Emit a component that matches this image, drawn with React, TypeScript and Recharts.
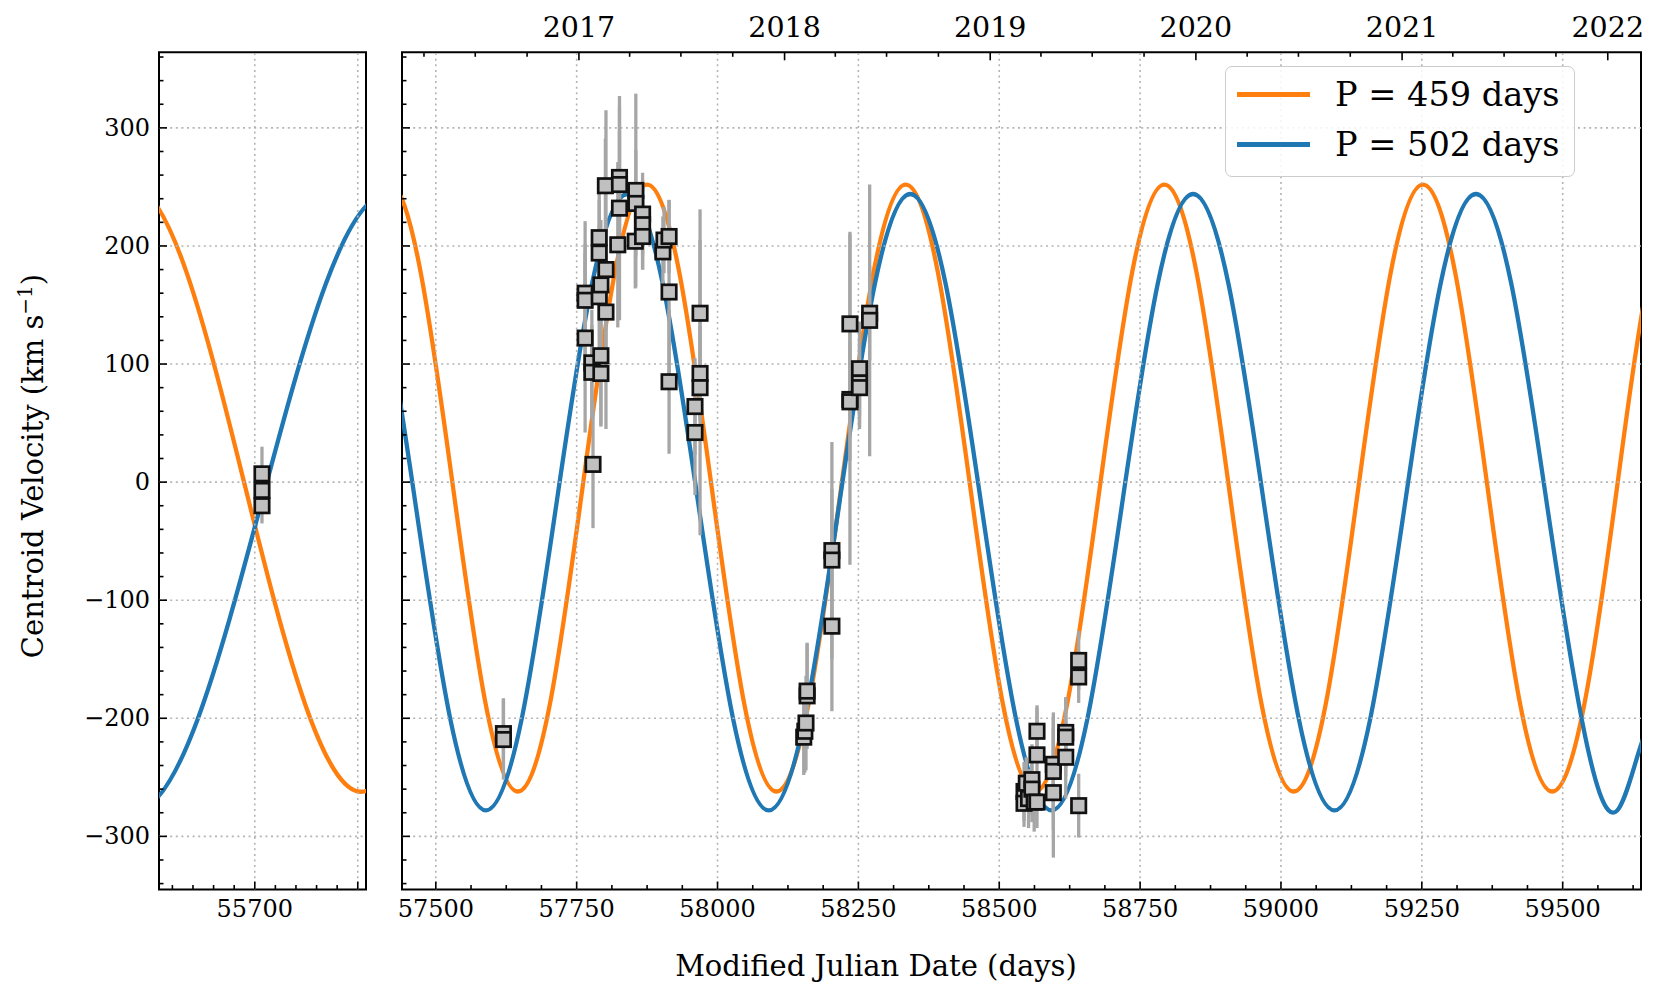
import { ComposedChart, ErrorBar, Legend, Line, ReferenceArea, ReferenceLine, Scatter, XAxis, YAxis } from "recharts"

const W = 1661
const H = 1001
const FONT = "'DejaVu Serif', serif"
const ORANGE = "#ff7f0e"
const BLUE = "#1f77b4"

// fitted curves: extrema, mean crossings and eighth-period points (MJD, km/s)
const orangeLeft: [number, number][] = [
  [55519, 177], [55576.5, 252], [55634, 177], [55691, -5], [55748.5, -187], [55806, -262], [55863.5, -187],
]
const blueLeft: [number, number][] = [
  [55518, -202], [55581, -278], [55644, -202], [55706.5, -17], [55769, 168], [55832, 244], [55895, 168],
]
const orangeRight: [number, number][] = [
  [57358.6, 177], [57416, 252], [57473.4, 177], [57530.8, -5], [57588.1, -187], [57645.5, -262],
  [57702.9, -187], [57760.3, -5], [57817.6, 177], [57875, 252], [57932.4, 177], [57989.8, -5],
  [58047.1, -187], [58104.5, -262], [58161.9, -187], [58219.3, -5], [58276.6, 177], [58334, 252],
  [58391.4, 177], [58448.8, -5], [58506.1, -187], [58563.5, -262], [58620.9, -187], [58678.3, -5],
  [58735.6, 177], [58793, 252], [58850.4, 177], [58907.8, -5], [58965.1, -187], [59022.5, -262],
  [59079.9, -187], [59137.3, -5], [59194.6, 177], [59252, 252], [59309.4, 177], [59366.8, -5],
  [59424.1, -187], [59481.5, -262], [59538.9, -187], [59596.3, -5], [59653.6, 177], [59711, 252],
]
const blueRight: [number, number][] = [
  [57275.3, 168], [57338, 244], [57400.8, 168], [57463.5, -17], [57526.3, -202], [57589, -278],
  [57651.8, -202], [57714.5, -17], [57777.3, 168], [57840, 244], [57902.8, 168], [57965.5, -17],
  [58028.3, -202], [58091, -278], [58153.8, -202], [58216.5, -17], [58279.3, 168], [58342, 244],
  [58404.8, 168], [58467.5, -17], [58530.3, -202], [58593, -278], [58655.8, -202], [58718.5, -17],
  [58781.3, 168], [58844, 244], [58906.8, 168], [58969.5, -17], [59032.3, -202], [59095, -278],
  [59157.8, -202], [59220.5, -17], [59283.3, 168], [59346, 244], [59408.8, 168], [59471.5, -17],
  [59534.3, -202], [59597, -278], [59659.8, -202], [59722.5, -278],
]

// measurements: MJD, centroid velocity, 1-sigma error
const pointsLeft: [number, number, number][] = [
  [55707, 7, 23], [55707, -7, 18], [55707, -20, 15],
]
const pointsRight: [number, number, number][] = [
  [57620, -213, 30], [57620, -218, 34],
  [57765, 160, 61], [57765, 154, 40], [57765, 122, 80], [57777, 101, 45], [57777, 93, 40],
  [57779, 15, 54], [57790, 207, 50], [57790, 194, 45], [57790, 157, 60], [57793, 167, 55],
  [57793, 107, 60], [57793, 92, 44], [57801, 251, 40], [57802, 180, 135], [57802, 144, 50],
  [57823, 201, 70], [57826, 258, 60], [57826, 252, 45], [57826, 232, 95], [57855, 247, 82],
  [57855, 236, 45], [57854, 204, 40], [57867, 227, 35], [57867, 218, 38], [57867, 208, 28],
  [57903, 195, 30], [57905, 205, 28], [57914, 208, 31], [57914, 161, 78], [57914, 85, 61],
  [57960, 64, 41], [57960, 42, 53], [57969, 143, 88], [57969, 92, 40], [57969, 80, 125],
  [58153, -216, 32], [58155, -211, 35], [58157, -204, 40], [58159, -181, 45], [58159, -177, 40],
  [58203, -58, 92], [58203, -66, 60], [58203, -122, 72], [58235, 70, 140], [58235, 68, 50],
  [58235, 134, 78], [58252, 96, 40], [58252, 84, 37], [58252, 80, 35], [58270, 143, 40],
  [58270, 137, 115],
  [58544, -262, 25], [58544, -272, 20], [58548, -255, 22], [58552, -268, 25], [58558, -252, 30],
  [58558, -260, 28], [58562, -271, 25], [58567, -211, 22], [58567, -231, 40], [58567, -271, 22],
  [58596, -239, 40], [58596, -245, 50], [58596, -263, 55], [58618, -212, 30], [58618, -216, 33],
  [58618, -233, 35], [58641, -151, 25], [58641, -165, 22], [58641, -274, 27],
]

const yDomain: [number, number] = [-345, 364]
const yMajor = [-300, -200, -100, 0, 100, 200, 300]
const leftDomain: [number, number] = [55607, 55808]
const leftMajor = [55700, 55800]
const leftLabelled = [55700]
const rightDomain: [number, number] = [57440, 59639]
const rightMajor = [57500, 57750, 58000, 58250, 58500, 58750, 59000, 59250, 59500]
const yearMjd = [57754, 58119, 58484, 58849, 59215, 59580]
const yearLabels = ["2017", "2018", "2019", "2020", "2021", "2022"]
const quarterMjd = [
  57479, 57570, 57662, 57844, 57935, 58027, 58209, 58300, 58392, 58574, 58665, 58757,
  58940, 59031, 59123, 59305, 59396, 59488,
]

const range = (a: number, b: number, s: number) => {
  const out: number[] = []
  for (let v = a; v <= b + 1e-9; v += s) out.push(v)
  return out
}
const yTicks = range(-340, 360, 20)
const leftTicks = range(55620, 55800, 20)
const rightTicks = range(57500, 59625, 62.5)
const topTicks = [...yearMjd, ...quarterMjd].sort((a, b) => a - b)

const curve = (pts: [number, number][]) => pts.map(([t, v]) => ({ t, v }))
const points = (pts: [number, number, number][]) => pts.map(([t, v, e]) => ({ t, v, e }))

const fmt = (v: number) => (v < 0 ? `\u2212${-v}` : `${v}`)

const bottomTick = (majors: number[], labelled: number[]) => (p: any) => {
  const v = p.payload.value
  const major = majors.includes(v)
  return (
    <g>
      <line x1={p.x} x2={p.x} y1={p.y} y2={p.y - (major ? 8 : 4.5)} stroke="#000" strokeWidth={1.6} />
      {labelled.includes(v) && (
        <text x={p.x} y={p.y + 19} textAnchor="middle" dominantBaseline="central" fontSize={24} fontFamily={FONT} fill="#000">
          {v}
        </text>
      )}
    </g>
  )
}

const leftTick = (labels: boolean) => (p: any) => {
  const v = p.payload.value
  const major = yMajor.includes(v)
  return (
    <g>
      <line x1={p.x} x2={p.x + (major ? 8 : 4.5)} y1={p.y} y2={p.y} stroke="#000" strokeWidth={1.6} />
      {labels && major && (
        <text x={p.x - 9} y={p.y} textAnchor="end" dominantBaseline="central" fontSize={24} fontFamily={FONT} fill="#000">
          {fmt(v)}
        </text>
      )}
    </g>
  )
}

const topTick = (p: any) => {
  const v = p.payload.value
  const i = yearMjd.indexOf(v)
  return (
    <g>
      <line x1={p.x} x2={p.x} y1={p.y} y2={p.y + (i >= 0 ? 8 : 4.5)} stroke="#000" strokeWidth={1.6} />
      {i >= 0 && (
        <text x={p.x} y={p.y - 25} textAnchor="middle" dominantBaseline="central" fontSize={28.5} fontFamily={FONT} fill="#000">
          {yearLabels[i]}
        </text>
      )}
    </g>
  )
}

const Square = (p: any) => (
  <rect x={p.cx - 7.2} y={p.cy - 7.2} width={14.4} height={14.4} fill="#c0c0c0" stroke="#111" strokeWidth={2.7} />
)

const grid = { stroke: "#b4b4b4", strokeWidth: 1.6, strokeDasharray: "2 3.6" }

const renderLegend = (props: any) => (
  <div
    style={{
      boxSizing: "border-box",
      width: 350,
      height: 111,
      padding: "3px 0 0 0",
      border: "1.6px solid #cccccc",
      borderRadius: 7,
      background: "rgba(255,255,255,0.85)",
      fontFamily: FONT,
    }}
  >
    {(props.payload || [])
      .filter((item: any) => item.type !== "none")
      .map((item: any) => (
        <div key={item.value} style={{ display: "flex", alignItems: "center", height: 50 }}>
          <div style={{ width: 73, height: 4.5, marginLeft: 11, background: item.color }} />
          <div style={{ marginLeft: 25, fontSize: 33.6, lineHeight: "50px", color: "#000" }}>{item.value}</div>
        </div>
      ))}
  </div>
)

function Panel({
  domain,
  ticks,
  majors,
  labelled,
  orange,
  blue,
  data,
  left,
  right,
  yLabels,
  top,
}: {
  domain: [number, number]
  ticks: number[]
  majors: number[]
  labelled: number[]
  orange: [number, number][]
  blue: [number, number][]
  data: [number, number, number][]
  left: number
  right: number
  yLabels: boolean
  top: boolean
}) {
  // axes are 1px thick so that their ticks sit exactly on the plot edges
  const margin = { top: top ? 51.3 : 52.3, bottom: H - 889.5 - 1, left: left - 1, right: W - right }
  // the year axis shares the MJD domain, so the orange curve can be placed on it
  const orangeAxis = top ? "top" : 0
  return (
    <div style={{ position: "absolute", left: 0, top: 0 }}>
      <ComposedChart width={W} height={H} margin={margin}>
        <XAxis
          dataKey="t"
          type="number"
          domain={domain}
          allowDataOverflow
          ticks={ticks}
          interval={0}
          height={1}
          tickSize={0}
          tickMargin={0}
          tickLine={false}
          axisLine={false}
          tick={bottomTick(majors, labelled)}
        />
        {top && (
          <XAxis
            xAxisId="top"
            orientation="top"
            dataKey="t"
            type="number"
            domain={domain}
            allowDataOverflow
            ticks={topTicks}
            interval={0}
            height={1}
            tickSize={0}
            tickMargin={0}
            tickLine={false}
            axisLine={false}
            tick={topTick}
          />
        )}
        <YAxis
          dataKey="v"
          type="number"
          domain={yDomain}
          allowDataOverflow
          ticks={yTicks}
          interval={0}
          width={1}
          tickSize={0}
          tickMargin={0}
          tickLine={false}
          axisLine={false}
          tick={leftTick(yLabels)}
        />
        <Line
          xAxisId={orangeAxis}
          data={curve(orange)}
          dataKey="v"
          name="P = 459 days"
          type="natural"
          stroke={ORANGE}
          strokeWidth={4.3}
          dot={false}
          activeDot={false}
          isAnimationActive={false}
        />
        <Line
          data={curve(blue)}
          dataKey="v"
          name="P = 502 days"
          type="natural"
          stroke={BLUE}
          strokeWidth={4.3}
          dot={false}
          activeDot={false}
          isAnimationActive={false}
        />
        {majors.map((x) => (
          <ReferenceLine key={`x${x}`} x={x} {...grid} />
        ))}
        {yMajor.map((y) => (
          <ReferenceLine key={`y${y}`} y={y} {...grid} />
        ))}
        <Scatter data={points(data)} dataKey="v" shape={Square} legendType="none" isAnimationActive={false}>
          <ErrorBar dataKey="e" direction="y" width={0} stroke="#a6a6a6" strokeWidth={3.3} isAnimationActive={false} />
        </Scatter>
        <ReferenceArea
          x1={domain[0]}
          x2={domain[1]}
          y1={yDomain[0]}
          y2={yDomain[1]}
          fill="none"
          stroke="#000"
          strokeWidth={2}
          ifOverflow="visible"
        />
        {top && (
          <Legend
            layout="vertical"
            align="center"
            verticalAlign="middle"
            content={renderLegend}
            wrapperStyle={{ top: 65.7, left: 1225, width: 350, height: 111 }}
          />
        )}
      </ComposedChart>
    </div>
  )
}

export default function App() {
  return (
    <div style={{ position: "absolute", left: 0, top: 0, width: W, height: H, background: "#fff", fontFamily: FONT, overflow: "hidden" }}>
      <Panel
        domain={leftDomain}
        ticks={leftTicks}
        majors={leftMajor}
        labelled={leftLabelled}
        orange={orangeLeft}
        blue={blueLeft}
        data={pointsLeft}
        left={159}
        right={366}
        yLabels
        top={false}
      />
      <Panel
        domain={rightDomain}
        ticks={rightTicks}
        majors={rightMajor}
        labelled={rightMajor}
        orange={orangeRight}
        blue={blueRight}
        data={pointsRight}
        left={402}
        right={1641}
        yLabels={false}
        top
      />
      <div
        style={{
          position: "absolute",
          left: 876,
          top: 966,
          transform: "translate(-50%, -50%)",
          fontSize: 29,
          lineHeight: 1,
          whiteSpace: "nowrap",
          color: "#000",
        }}
      >
        Modified Julian Date (days)
      </div>
      <div
        style={{
          position: "absolute",
          left: 33,
          top: 466,
          transform: "translate(-50%, -50%) rotate(-90deg)",
          fontSize: 29,
          lineHeight: 1,
          whiteSpace: "nowrap",
          color: "#000",
        }}
      >
        Centroid Velocity (km s<sup style={{ fontSize: 20, verticalAlign: "0.55em", lineHeight: 0 }}>{"\u22121"}</sup>)
      </div>
    </div>
  )
}
